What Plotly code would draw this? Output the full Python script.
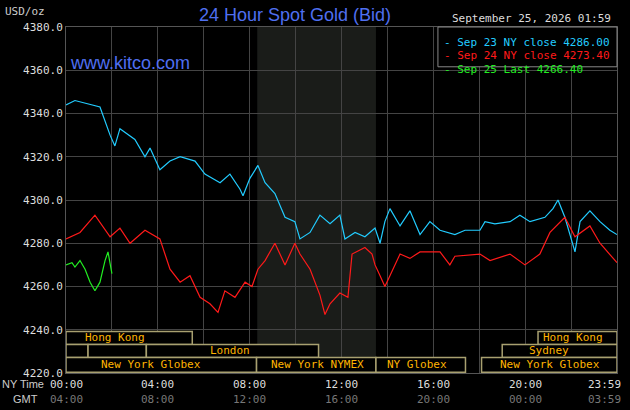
import plotly.graph_objects as go

# hours since 00:00 NY time
blue_t = [0, 0.39, 1.48, 1.92, 2.13, 2.35, 3.0, 3.44, 3.66, 4.09, 4.53, 4.97, 5.62, 6.05, 6.71, 7.14, 7.58, 7.71, 8.01, 8.36, 8.67, 9.1, 9.54, 9.97, 10.19, 10.63, 11.06, 11.5, 11.93, 12.15, 12.59, 13.02, 13.46, 13.68, 13.89, 14.11, 14.55, 14.98, 15.42, 15.85, 16.29, 16.94, 17.38, 18.03, 18.25, 18.68, 19.34, 19.77, 20.21, 20.86, 21.21, 21.43, 21.73, 22.17, 22.39, 22.82, 23.26, 23.69, 24.0]
blue_v = [4344, 4346, 4343, 4330, 4325, 4333, 4328, 4320, 4324, 4314, 4318, 4320, 4318, 4312, 4308, 4312, 4305, 4302, 4310, 4316, 4308, 4303, 4292, 4290, 4282, 4285, 4293, 4289, 4293, 4282, 4285, 4283, 4287, 4280, 4290, 4296, 4288, 4295, 4284, 4290, 4286, 4284, 4286, 4286, 4290, 4289, 4290, 4293, 4290, 4292, 4296, 4300, 4292, 4276, 4290, 4295, 4290, 4286, 4284]

red_t = [0, 0.61, 1.26, 1.92, 2.35, 2.79, 3.44, 4.09, 4.53, 4.97, 5.4, 5.84, 6.27, 6.62, 6.92, 7.36, 7.8, 8.1, 8.36, 8.67, 9.1, 9.54, 9.97, 10.19, 10.63, 10.85, 11.06, 11.28, 11.5, 11.93, 12.28, 12.46, 13.02, 13.33, 13.46, 13.68, 13.89, 14.11, 14.55, 14.98, 15.42, 16.29, 16.72, 16.94, 18.03, 18.47, 19.34, 19.99, 20.64, 21.08, 21.73, 22.17, 22.82, 23.26, 23.69, 24.0]
red_v = [4282, 4285, 4293, 4283, 4287, 4280, 4286, 4282, 4268, 4262, 4265, 4255, 4252, 4248, 4258, 4255, 4262, 4260, 4268, 4272, 4280, 4270, 4280, 4275, 4268, 4262, 4256, 4247, 4252, 4257, 4255, 4275, 4278, 4275, 4270, 4265, 4260, 4265, 4275, 4273, 4276, 4276, 4270, 4274, 4275, 4272, 4275, 4270, 4275, 4285, 4292, 4283, 4288, 4280, 4275, 4271]

green_t = [0, 0.26, 0.39, 0.61, 0.83, 1.05, 1.26, 1.48, 1.70, 1.83, 2.0]
green_v = [4270, 4271, 4269, 4272, 4268, 4262, 4258, 4262, 4272, 4276, 4266]

y_ticks = [4220, 4240, 4260, 4280, 4300, 4320, 4340, 4360, 4380]
x_ticks = [0, 4, 8, 12, 16, 20, 24]
ny_labels = ["00:00", "04:00", "08:00", "12:00", "16:00", "20:00", "23:59"]
gmt_labels = ["04:00", "08:00", "12:00", "16:00", "20:00", "00:00", "03:59"]

# sessions: (start, end, row, label, label_x)
sessions = [
    (0, 5.5, 0, "Hong Kong", 2.13), (20.56, 24, 0, "Hong Kong", 22.1),
    (0, 0.96, 1, "", 0), (0.96, 3.5, 1, "", 0), (3.5, 11.0, 1, "London", 7.14),
    (19.0, 24, 1, "Sydney", 21.05),
    (0, 8.3, 2, "New York Globex", 3.7), (8.3, 13.5, 2, "New York NYMEX", 10.97),
    (13.5, 17.4, 2, "NY Globex", 15.3), (18.1, 24, 2, "New York Globex", 21.1),
]
rows = [(4233.2, 4239.2), (4227.2, 4233.2), (4220.3, 4227.2)]

mono = "DejaVu Sans Mono"
fig = go.Figure()
fig.add_trace(go.Scatter(x=blue_t, y=blue_v, mode="lines", line=dict(color="#22ccff", width=1.2)))
fig.add_trace(go.Scatter(x=red_t, y=red_v, mode="lines", line=dict(color="#ff1a1a", width=1.2)))
fig.add_trace(go.Scatter(x=green_t, y=green_v, mode="lines", line=dict(color="#22ee22", width=1.2)))

shapes = [dict(type="rect", xref="x", yref="paper", x0=8.33, x1=13.5, y0=0, y1=1,
               fillcolor="#1a1c19", line_width=0, layer="below")]
ann = []
for s0, s1, r, lab, lx in sessions:
    y0, y1 = rows[r]
    shapes.append(dict(type="rect", xref="x", yref="y", x0=s0, x1=s1, y0=y0, y1=y1,
                       fillcolor="black", line=dict(color="#a8a070", width=1.5), layer="above"))
    if lab:
        ann.append(dict(x=lx, y=(y0 + y1) / 2, xref="x", yref="y", text=lab, showarrow=False,
                        font=dict(family=mono, size=11, color="#ffb400")))
for xt, a, b in zip(x_ticks, ny_labels, gmt_labels):
    anc = "right" if xt == 24 else "center"
    ann.append(dict(x=xt, y=-0.01, xref="x", yref="paper", text=a, showarrow=False, xanchor=anc,
                    yanchor="top", xshift=6 if xt == 24 else 0, font=dict(family=mono, size=11, color="#dddddd")))
    ann.append(dict(x=xt, y=-0.053, xref="x", yref="paper", text=b, showarrow=False, xanchor=anc,
                    yanchor="top", xshift=6 if xt == 24 else 0, font=dict(family=mono, size=11, color="#777777")))
ann += [
    dict(x=-0.12, y=-0.01, xref="paper", yref="paper", text="NY Time", showarrow=False, xanchor="left",
         yanchor="top", font=dict(family="Liberation Sans Narrow, Liberation Sans", size=11, color="#cccccc")),
    dict(x=-0.1, y=-0.053, xref="paper", yref="paper", text="GMT", showarrow=False, xanchor="left",
         yanchor="top", font=dict(family="Liberation Sans Narrow, Liberation Sans", size=11, color="#cccccc")),
    dict(x=-0.035, y=1.02, xref="paper", yref="paper", text="USD/oz", showarrow=False, xanchor="right",
         yanchor="bottom", font=dict(family=mono, size=11, color="#cccccc")),
    dict(x=0.415, y=1.0, xref="paper", yref="paper", text="24 Hour Spot Gold (Bid)", showarrow=False,
         yanchor="bottom", font=dict(family="Liberation Sans", size=18, color="#4f6ff0")),
    dict(x=0.003, y=0.93, xref="paper", yref="paper", text="www.kitco.com", showarrow=False, xanchor="left",
         font=dict(family="Liberation Sans", size=18, color="#4f6ff0")),
    dict(x=1.0, y=1.0, xref="paper", yref="paper", text="September 25, 2026 01:59", showarrow=False,
         xanchor="right", yanchor="bottom", xshift=-4, font=dict(family=mono, size=11, color="#dddddd")),
]
legend_items = [("Sep 23 NY close 4286.00", "#22ccff"), ("Sep 24 NY close 4273.40", "#ff1a1a"),
                ("Sep 25 Last 4266.40", "#22ee22")]
shapes.append(dict(type="rect", xref="paper", yref="paper", x0=0.675, x1=1.0, y0=0.885, y1=1.0,
                   fillcolor="black", line=dict(color="#888888", width=1), layer="above"))
for i, (t, c) in enumerate(legend_items):
    ann.append(dict(x=0.682, y=0.98 - i * 0.039, xref="paper", yref="paper", text="- " + t, showarrow=False,
                    xanchor="left", font=dict(family=mono, size=11, color=c)))

fig.update_layout(
    width=630, height=410, margin=dict(l=66, r=13, t=27, b=37),
    paper_bgcolor="black", plot_bgcolor="black", showlegend=False,
    shapes=shapes, annotations=ann,
    xaxis=dict(range=[0, 24], tickvals=list(range(0, 25, 2)), showticklabels=False,
               showgrid=True, gridcolor="#444444", gridwidth=1, zeroline=False,
               showline=True, linecolor="#555555", mirror=True),
    yaxis=dict(range=[4220, 4380], tickvals=y_ticks, ticktext=[f"{v:.1f}" for v in y_ticks],
               showgrid=True, gridcolor="#444444", zeroline=False, ticks="",
               tickfont=dict(family=mono, size=11, color="#dddddd"),
               showline=True, linecolor="#555555", mirror=True),
)
fig.write_html("out.html", config={"displayModeBar": False},
               post_script="document.body.style.margin='0';document.body.style.background='black';")
